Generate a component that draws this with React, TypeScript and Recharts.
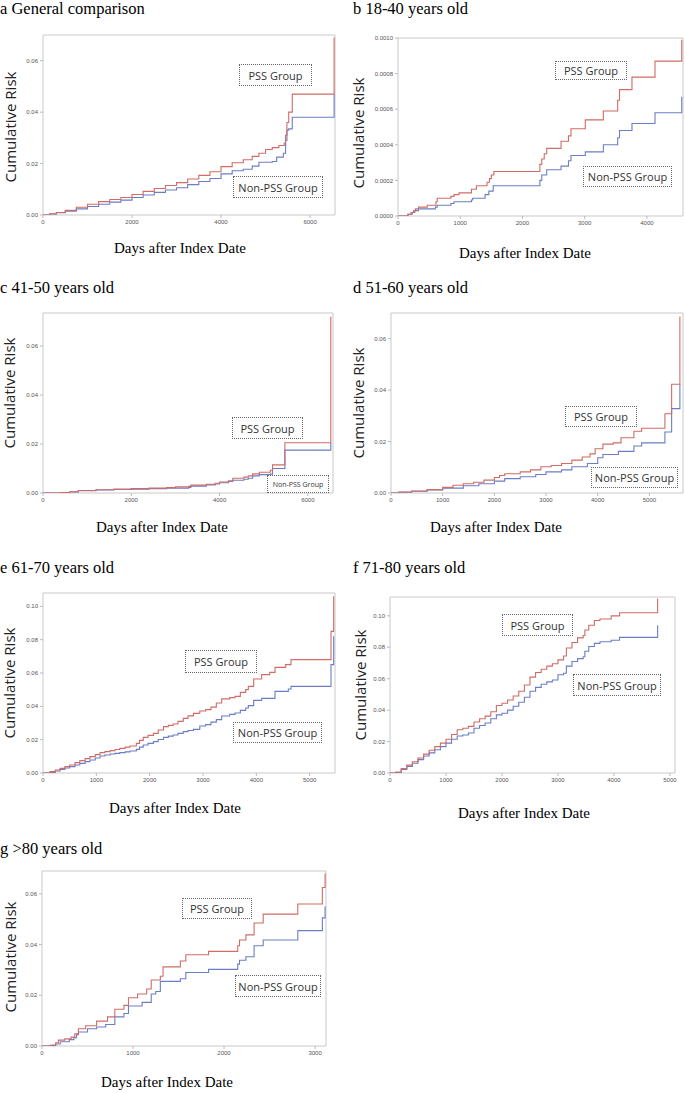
import React from 'react'
import { LineChart, Line, XAxis, YAxis, ReferenceArea } from 'recharts'

type Pt = [number, number]

// days after index date, cumulative risk
const aPss: Pt[] = [[0, 0], [150, 0.0005], [300, 0.001], [500, 0.0018], [750, 0.003], [1000, 0.0042], [1250, 0.0052], [1500, 0.006], [1750, 0.0068], [2000, 0.008], [2250, 0.0092], [2500, 0.0103], [2750, 0.0115], [3000, 0.0126], [3250, 0.014], [3500, 0.0154], [3750, 0.0168], [4000, 0.0188], [4250, 0.0203], [4500, 0.0215], [4700, 0.0228], [4850, 0.024], [5000, 0.0255], [5150, 0.0262], [5300, 0.027], [5420, 0.028], [5450, 0.031], [5480, 0.036], [5520, 0.04], [5600, 0.047], [6540, 0.069]]
const aNon: Pt[] = [[0, 0], [150, 0.0004], [300, 0.0009], [500, 0.0015], [750, 0.0024], [1000, 0.0033], [1250, 0.0042], [1500, 0.005], [1750, 0.0058], [2000, 0.0068], [2250, 0.0078], [2500, 0.0088], [2750, 0.0097], [3000, 0.0106], [3250, 0.0118], [3500, 0.013], [3750, 0.0142], [4000, 0.016], [4250, 0.0172], [4500, 0.0178], [4700, 0.019], [4850, 0.0205], [5150, 0.0208], [5250, 0.0225], [5400, 0.024], [5450, 0.029], [5480, 0.033], [5520, 0.0335], [5600, 0.038], [6540, 0.047]]

const bPss: Pt[] = [[0, 0], [160, 0.00001], [210, 0.00002], [250, 0.00003], [280, 0.00004], [330, 0.00005], [470, 0.00006], [610, 0.00008], [630, 0.0001], [850, 0.00011], [900, 0.00012], [980, 0.00013], [1180, 0.00015], [1260, 0.00017], [1430, 0.00019], [1470, 0.00021], [1500, 0.00023], [1540, 0.00025], [2280, 0.00029], [2310, 0.00032], [2350, 0.00035], [2390, 0.00038], [2620, 0.00042], [2740, 0.00045], [2780, 0.00049], [3010, 0.00054], [3300, 0.00059], [3530, 0.00065], [3560, 0.00071], [3760, 0.00078], [4130, 0.00087], [4560, 0.00099]]
const bNon: Pt[] = [[0, 0], [160, 0.00001], [230, 0.00002], [270, 0.00003], [330, 0.00004], [600, 0.00005], [630, 0.00006], [850, 0.00007], [900, 0.00008], [1180, 0.00009], [1200, 0.0001], [1400, 0.00012], [1460, 0.00014], [1530, 0.00017], [2280, 0.0002], [2310, 0.00023], [2390, 0.00026], [2620, 0.00028], [2740, 0.00031], [2780, 0.00034], [3010, 0.00036], [3300, 0.0004], [3530, 0.00044], [3560, 0.00048], [3760, 0.00052], [4130, 0.00058], [4560, 0.00067]]

const cPss: Pt[] = [[0, 0], [400, 0.0002], [600, 0.0005], [800, 0.001], [1200, 0.0013], [1600, 0.0016], [2000, 0.0018], [2400, 0.002], [2800, 0.0022], [3000, 0.0025], [3300, 0.0027], [3350, 0.0032], [3700, 0.0036], [3900, 0.004], [4000, 0.0045], [4200, 0.005], [4300, 0.006], [4550, 0.0065], [4650, 0.007], [4750, 0.0078], [4900, 0.0085], [5150, 0.0093], [5200, 0.0115], [5480, 0.0205], [6520, 0.072]]
const cNon: Pt[] = [[0, 0], [400, 0.0001], [600, 0.0004], [800, 0.0009], [1200, 0.0012], [1600, 0.0014], [2000, 0.0016], [2400, 0.0018], [2800, 0.002], [3300, 0.0023], [3350, 0.0028], [3700, 0.0033], [3900, 0.0037], [4000, 0.0042], [4200, 0.0047], [4300, 0.0052], [4550, 0.0056], [4650, 0.006], [4750, 0.007], [4900, 0.0075], [5150, 0.0077], [5200, 0.01], [5480, 0.0175], [6520, 0.0205]]

const dPss: Pt[] = [[0, 0], [150, 0.0004], [400, 0.0008], [700, 0.0013], [1000, 0.0022], [1200, 0.003], [1400, 0.0036], [1600, 0.0042], [1800, 0.005], [2000, 0.006], [2100, 0.0068], [2200, 0.0075], [2500, 0.0082], [2700, 0.009], [2900, 0.0102], [3100, 0.0107], [3300, 0.0115], [3500, 0.0128], [3700, 0.014], [3850, 0.0152], [3950, 0.0172], [4100, 0.019], [4300, 0.0195], [4450, 0.0215], [4700, 0.024], [4850, 0.0252], [5300, 0.0308], [5430, 0.0423], [5590, 0.0686]]
const dNon: Pt[] = [[0, 0], [150, 0.0003], [400, 0.0007], [700, 0.0012], [1000, 0.0019], [1400, 0.0028], [1700, 0.0036], [2000, 0.0046], [2200, 0.0056], [2500, 0.0063], [2800, 0.0072], [3000, 0.0082], [3300, 0.009], [3500, 0.0102], [3800, 0.0115], [4000, 0.0137], [4100, 0.015], [4400, 0.0162], [4700, 0.0183], [4850, 0.0195], [5300, 0.0237], [5430, 0.0328], [5590, 0.0425]]

const ePss: Pt[] = [[0, 0], [130, 0.0008], [230, 0.0018], [320, 0.0028], [410, 0.0038], [500, 0.0048], [600, 0.0062], [690, 0.0074], [790, 0.0086], [880, 0.0098], [980, 0.011], [1070, 0.0122], [1160, 0.0128], [1260, 0.0134], [1350, 0.0141], [1440, 0.0148], [1540, 0.0155], [1630, 0.0162], [1750, 0.0178], [1810, 0.0196], [1880, 0.0214], [1970, 0.0226], [2070, 0.0238], [2160, 0.0258], [2260, 0.0278], [2350, 0.0286], [2440, 0.0294], [2530, 0.031], [2630, 0.0328], [2720, 0.0343], [2820, 0.0358], [2940, 0.0372], [3050, 0.038], [3150, 0.0395], [3250, 0.042], [3350, 0.0445], [3500, 0.0452], [3600, 0.046], [3700, 0.0484], [3800, 0.05], [3850, 0.052], [3950, 0.0564], [4100, 0.059], [4250, 0.0604], [4350, 0.0634], [4550, 0.065], [4650, 0.068], [5400, 0.085], [5450, 0.106]]
const eNon: Pt[] = [[0, 0], [130, 0.0004], [230, 0.0012], [320, 0.0022], [410, 0.003], [500, 0.0038], [600, 0.0048], [690, 0.0058], [790, 0.0068], [880, 0.0078], [980, 0.009], [1070, 0.0102], [1160, 0.0108], [1260, 0.0114], [1350, 0.0118], [1440, 0.0122], [1540, 0.0127], [1630, 0.0132], [1750, 0.0142], [1810, 0.0155], [1880, 0.0168], [1970, 0.0178], [2070, 0.0188], [2160, 0.0201], [2260, 0.0214], [2350, 0.0221], [2440, 0.0228], [2530, 0.0238], [2630, 0.0248], [2720, 0.0255], [2820, 0.0262], [2940, 0.0282], [3050, 0.029], [3150, 0.0305], [3250, 0.032], [3350, 0.0342], [3500, 0.0352], [3600, 0.036], [3700, 0.0376], [3800, 0.039], [3850, 0.0404], [3950, 0.0436], [4100, 0.0448], [4350, 0.049], [4600, 0.0504], [4650, 0.052], [5400, 0.065], [5450, 0.082]]

const fPss: Pt[] = [[0, 0], [100, 0.0005], [200, 0.0028], [300, 0.005], [400, 0.0072], [500, 0.0095], [600, 0.012], [700, 0.0145], [800, 0.0168], [900, 0.019], [1000, 0.0215], [1100, 0.0245], [1200, 0.0275], [1300, 0.0285], [1400, 0.0297], [1500, 0.0325], [1600, 0.0345], [1700, 0.0362], [1800, 0.039], [1900, 0.043], [2000, 0.0444], [2100, 0.0465], [2200, 0.049], [2300, 0.052], [2400, 0.056], [2500, 0.061], [2600, 0.064], [2700, 0.066], [2800, 0.068], [2900, 0.0695], [3000, 0.072], [3100, 0.0745], [3150, 0.0795], [3250, 0.083], [3350, 0.086], [3450, 0.0875], [3480, 0.091], [3550, 0.094], [3650, 0.097], [3750, 0.098], [3950, 0.1], [4100, 0.102], [4780, 0.111]]
const fNon: Pt[] = [[0, 0], [100, 0.0004], [200, 0.0022], [300, 0.0042], [400, 0.0062], [500, 0.0085], [600, 0.0108], [700, 0.0128], [800, 0.0148], [900, 0.0168], [1000, 0.019], [1100, 0.0215], [1200, 0.0235], [1300, 0.0242], [1400, 0.0255], [1500, 0.0285], [1600, 0.0302], [1700, 0.0318], [1800, 0.0345], [1900, 0.037], [2000, 0.038], [2100, 0.04], [2200, 0.0425], [2300, 0.045], [2400, 0.0482], [2500, 0.052], [2600, 0.0545], [2700, 0.0565], [2800, 0.058], [2900, 0.0592], [3000, 0.0625], [3100, 0.0635], [3150, 0.068], [3250, 0.071], [3350, 0.0728], [3450, 0.074], [3480, 0.0775], [3550, 0.0805], [3650, 0.0825], [3750, 0.0835], [3950, 0.0845], [4100, 0.0863], [4780, 0.094]]

const gPss: Pt[] = [[0, 0], [100, 0.0004], [150, 0.0013], [180, 0.0023], [250, 0.0028], [320, 0.0035], [360, 0.0048], [400, 0.0068], [480, 0.008], [600, 0.0098], [720, 0.0115], [800, 0.0145], [900, 0.016], [950, 0.019], [1050, 0.0205], [1150, 0.0225], [1200, 0.026], [1300, 0.0275], [1330, 0.0312], [1520, 0.0335], [1580, 0.036], [1830, 0.0373], [2150, 0.0395], [2170, 0.0418], [2240, 0.0438], [2330, 0.0485], [2430, 0.052], [2810, 0.056], [3080, 0.0625], [3110, 0.068]]
const gNon: Pt[] = [[0, 0], [100, 0.0002], [150, 0.0008], [200, 0.0017], [300, 0.0025], [350, 0.0033], [380, 0.0045], [400, 0.0055], [500, 0.0068], [600, 0.0075], [700, 0.0085], [800, 0.0115], [900, 0.0128], [950, 0.0158], [1100, 0.0172], [1200, 0.0205], [1250, 0.0215], [1300, 0.0255], [1520, 0.0265], [1580, 0.029], [1830, 0.0302], [2150, 0.0323], [2170, 0.0338], [2240, 0.0352], [2330, 0.0395], [2430, 0.0418], [2810, 0.0455], [3080, 0.0505], [3110, 0.055]]

const ticks2k = [0, 2000, 4000, 6000]
const ticks1k = [0, 1000, 2000, 3000, 4000, 5000]
const ticks1k4 = [0, 1000, 2000, 3000, 4000]
const ticks1k3 = [0, 1000, 2000, 3000]
const riskTicks06 = [0, 0.02, 0.04, 0.06]
const riskTicks10 = [0, 0.02, 0.04, 0.06, 0.08, 0.1]
const riskTicksSmall = [0, 0.0002, 0.0004, 0.0006, 0.0008, 0.001]

const titles = ['a General comparison', 'b 18-40 years old', 'c 41-50 years old', 'd 51-60 years old', 'e 61-70 years old', 'f 71-80 years old', 'g >80 years old']

const RED = '#d06c65'
const BLUE = '#6b7dc6'
const SERIF = '"Liberation Serif", "Times New Roman", serif'

const toRows = (pts: Pt[]) => pts.map(([day, risk]) => ({ day, risk }))

interface Box { x: number; y: number; w: number; h: number; size: number }

interface PanelProps {
  title: string
  left: number
  top: number
  plot: { x0: number; x1: number; y0: number; y1: number }
  xMax: number
  yMax: number
  xTicks: number[]
  yTicks: number[]
  digits: number
  pss: Pt[]
  non: Pt[]
  pssBox: Box
  nonBox: Box
  xLabel: { cx: number; y: number }
  yLabel: { cx: number; cy: number }
}

function LegendBox({ box, text }: { box: Box; text: string }) {
  return (
    <div
      style={{
        position: 'absolute', left: box.x, top: box.y, width: box.w, height: box.h,
        border: '1px dotted #666', boxSizing: 'border-box', display: 'flex',
        alignItems: 'center', justifyContent: 'center', fontFamily: '"Open Sans", sans-serif',
        fontSize: box.size, color: '#333', background: '#fff', whiteSpace: 'nowrap',
      }}
    >
      {text}
    </div>
  )
}

function Panel(p: PanelProps) {
  const w = p.plot.x1 - p.left + 4
  const h = p.plot.y1 - p.plot.y0 + 2 + 16
  const tick = { fontSize: 6, fill: '#555', fontFamily: 'Arial, sans-serif' }
  return (
    <>
      <div style={{ position: 'absolute', left: p.left + (p.left ? 13 : 0), top: p.top, fontFamily: SERIF, fontSize: 16.5, lineHeight: 1, whiteSpace: 'nowrap' }}>
        {p.title}
      </div>
      <div style={{ position: 'absolute', left: p.left, top: p.plot.y0 - 2 }}>
        <LineChart width={w} height={h} margin={{ top: 2, right: 4, left: 0, bottom: 0 }}>
          <XAxis type="number" dataKey="day" domain={[0, p.xMax]} ticks={p.xTicks} allowDataOverflow
            axisLine={false} tickLine={{ stroke: '#bbb' }} tickSize={3} tick={tick} height={16} interval={0} />
          <YAxis type="number" dataKey="risk" domain={[0, p.yMax]} ticks={p.yTicks} allowDataOverflow
            axisLine={false} tickLine={{ stroke: '#bbb' }} tickSize={3} tick={tick}
            width={p.plot.x0 - p.left} interval={0} tickFormatter={(v: number) => v.toFixed(p.digits)} />
          <ReferenceArea x1={0} x2={p.xMax} y1={0} y2={p.yMax} fill="none" stroke="#c9c9c9" strokeWidth={1} fillOpacity={0} />
          <Line data={toRows(p.non)} dataKey="risk" type="stepAfter" stroke={BLUE} strokeWidth={1.1} dot={false} isAnimationActive={false} />
          <Line data={toRows(p.pss)} dataKey="risk" type="stepAfter" stroke={RED} strokeWidth={1.1} dot={false} isAnimationActive={false} />
        </LineChart>
      </div>
      <LegendBox box={p.pssBox} text="PSS Group" />
      <LegendBox box={p.nonBox} text="Non-PSS Group" />
      <div style={{ position: 'absolute', left: p.xLabel.cx, top: p.xLabel.y, transform: 'translateX(-50%)', fontFamily: SERIF, fontSize: 15, whiteSpace: 'nowrap' }}>
        Days after Index Date
      </div>
      <div style={{ position: 'absolute', left: p.yLabel.cx, top: p.yLabel.cy, transform: 'translate(-50%, -50%) rotate(-90deg)', fontFamily: '"Open Sans", sans-serif', fontSize: 15, color: '#222', whiteSpace: 'nowrap' }}>
        Cumulative Risk
      </div>
    </>
  )
}

export default function App() {
  return (
    <div style={{ position: 'absolute', left: 0, top: 0, width: 685, height: 1093, background: '#fff', overflow: 'hidden' }}>
      <Panel title={titles[0]} left={0} top={1} plot={{ x0: 43, x1: 335, y0: 35, y1: 215 }} xMax={6560} yMax={0.07}
        xTicks={ticks2k} yTicks={riskTicks06} digits={2} pss={aPss} non={aNon}
        pssBox={{ x: 239, y: 64, w: 73, h: 22, size: 11 }} nonBox={{ x: 233, y: 176, w: 90, h: 22, size: 11 }}
        xLabel={{ cx: 180, y: 240 }} yLabel={{ cx: 10, cy: 127 }} />
      <Panel title={titles[1]} left={340} top={1} plot={{ x0: 398, x1: 683, y0: 38, y1: 216 }} xMax={4580} yMax={0.001}
        xTicks={ticks1k4} yTicks={riskTicksSmall} digits={4} pss={bPss} non={bNon}
        pssBox={{ x: 555, y: 61, w: 72, h: 19, size: 11 }} nonBox={{ x: 583, y: 166, w: 89, h: 21, size: 11 }}
        xLabel={{ cx: 525, y: 245 }} yLabel={{ cx: 358, cy: 133 }} />
      <Panel title={titles[2]} left={0} top={280} plot={{ x0: 43, x1: 333, y0: 313, y1: 493 }} xMax={6570} yMax={0.0735}
        xTicks={ticks2k} yTicks={riskTicks06} digits={2} pss={cPss} non={cNon}
        pssBox={{ x: 232, y: 417, w: 71, h: 22, size: 11 }} nonBox={{ x: 267, y: 475, w: 62, h: 18, size: 7 }}
        xLabel={{ cx: 162, y: 519 }} yLabel={{ cx: 9, cy: 393 }} />
      <Panel title={titles[3]} left={340} top={280} plot={{ x0: 391, x1: 683, y0: 313, y1: 493 }} xMax={5650} yMax={0.07}
        xTicks={ticks1k} yTicks={riskTicks06} digits={2} pss={dPss} non={dNon}
        pssBox={{ x: 565, y: 406, w: 72, h: 21, size: 11 }} nonBox={{ x: 591, y: 467, w: 87, h: 21, size: 11 }}
        xLabel={{ cx: 496, y: 519 }} yLabel={{ cx: 358, cy: 403 }} />
      <Panel title={titles[4]} left={0} top={560} plot={{ x0: 43, x1: 335, y0: 593, y1: 773 }} xMax={5475} yMax={0.108}
        xTicks={ticks1k} yTicks={riskTicks10} digits={2} pss={ePss} non={eNon}
        pssBox={{ x: 185, y: 650, w: 72, h: 23, size: 11 }} nonBox={{ x: 233, y: 722, w: 89, h: 21, size: 11 }}
        xLabel={{ cx: 175, y: 800 }} yLabel={{ cx: 9, cy: 683 }} />
      <Panel title={titles[5]} left={340} top={560} plot={{ x0: 390, x1: 675, y0: 597, y1: 773 }} xMax={5090} yMax={0.112}
        xTicks={ticks1k} yTicks={riskTicks10} digits={2} pss={fPss} non={fNon}
        pssBox={{ x: 502, y: 614, w: 71, h: 22, size: 11 }} nonBox={{ x: 573, y: 674, w: 88, h: 22, size: 11 }}
        xLabel={{ cx: 524, y: 805 }} yLabel={{ cx: 360, cy: 685 }} />
      <Panel title={titles[6]} left={0} top={841} plot={{ x0: 42, x1: 326, y0: 871, y1: 1046 }} xMax={3120} yMax={0.069}
        xTicks={ticks1k3} yTicks={riskTicks06} digits={2} pss={gPss} non={gNon}
        pssBox={{ x: 182, y: 898, w: 70, h: 21, size: 11 }} nonBox={{ x: 235, y: 975, w: 86, h: 22, size: 11 }}
        xLabel={{ cx: 167, y: 1074 }} yLabel={{ cx: 10, cy: 957 }} />
    </div>
  )
}
